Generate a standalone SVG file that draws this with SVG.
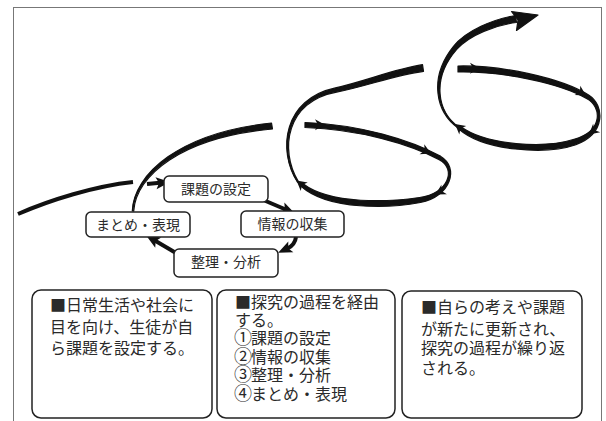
<svg xmlns="http://www.w3.org/2000/svg" xmlns:xlink="http://www.w3.org/1999/xlink" width="606" height="421" viewBox="0 0 606 421">
<style>
.node{fill:#fff;stroke:#222;stroke-width:1.5}
.lbl{font-family:"Noto Sans CJK JP","Noto Sans CJK SC",sans-serif;font-size:14px;fill:#2a2a2a;text-anchor:middle}
.txt{font-family:"Noto Sans CJK JP","Noto Sans CJK SC",sans-serif;font-size:16px;fill:#2a2a2a}
.num{font-size:18px}
.rib{fill:#111;stroke:#111;stroke-width:1.2;stroke-linejoin:round}
.ln{fill:none;stroke:#111;stroke-width:4;stroke-linecap:butt}
</style>
<defs>
<marker id="ah" markerUnits="userSpaceOnUse" viewBox="-6 -8 17 16" refX="0" refY="0" markerWidth="17" markerHeight="16" orient="auto">
<path d="M10,0 L-4,-6 L-1,0 L-4,6 Z" fill="#111"/>
</marker>
<path id="barb" d="M0,0 L-10,-5.5 L-7,0 L-10,5.5 Z" fill="#111"/>
</defs>
<rect x="13.5" y="7.5" width="588" height="430" fill="#fff" stroke="#777" stroke-width="1"/>

<g id="connectors">
<path class="ln" d="M18,214 C50,200 95,186 133,182" stroke-width="5.5"/>
<path class="ln" d="M147,184 L160,182.8" stroke-width="4.5" marker-end="url(#ah)"/>
<path class="ln" d="M261,199 L285.7,209.5" stroke-width="3.5" marker-end="url(#ah)"/>
<path class="ln" d="M296,237 Q295,245 287.2,248.6" stroke-width="3.5" marker-end="url(#ah)"/>
<path class="ln" d="M176,253 L154.8,240.6" stroke-width="4.5" marker-end="url(#ah)"/>
<path class="rib" d="M132.3,210.9 C134,174.2 179.2,132.8 271.5,123 L272.5,129 C180.8,137.2 136,175.8 133.7,211.1 Z"/>
<path class="rib" d="M305,122.5 C360.4,124.6 410.8,140 440.8,156.4 C459.3,167.4 451.3,196.3 420.4,202.5 C390.3,208.2 329,210.9 301,186.2 L303,183.8 C331,205.1 389.7,201.8 419.6,197.5 C448.7,193.7 456.7,168.6 439.2,159.6 C409.2,144 359.6,129.4 305,127.5 Z"/>
<path class="rib" d="M297.5,182.3 C277,150 283.6,99 335.4,87.9 C364.3,81.5 394.6,69 422.5,64.7 L423.5,71.3 C395.4,75 365.7,86.5 336.6,92.1 C286.4,101 279,150 298.5,181.7 Z"/>
<path class="rib" d="M458,66 C500.4,65 561,77.7 589,95.3 C604.4,105.3 606.4,133.1 575.9,144.7 C545.2,155.3 483.5,150.6 459.1,129.2 L460.9,126.8 C486.5,145.4 544.8,148.7 574.1,139.3 C603.6,130.9 601.6,106.7 587,98.7 C559,82.3 499.6,71 458,72 Z"/>
<path class="rib" d="M458.6,128.5 C435.3,112.3 428.6,77.5 453.3,46.6 C465.8,30.6 494,18.9 515.5,15.5 L516.5,22.5 C496,25.1 469.8,34.6 456.7,49.4 C431.4,78.5 436.7,111.7 459.4,127.5 Z"/>
<path class="rib" d="M538,15 L511.5,11.5 L518,20 L516.5,30.5 Z"/>
<use xlink:href="#barb" transform="translate(325,124.8)"/>
<use xlink:href="#barb" transform="translate(431,153.5) rotate(25)"/>
<use xlink:href="#barb" transform="translate(435.5,194.5) rotate(150)"/>
<use xlink:href="#barb" transform="translate(296.5,180.5) rotate(-141)"/>
<use xlink:href="#barb" transform="translate(480,68.3)"/>
<use xlink:href="#barb" transform="translate(586,95.5) rotate(31)"/>
<use xlink:href="#barb" transform="translate(589,134.5) rotate(140)"/>
<use xlink:href="#barb" transform="translate(455,124) rotate(-141)"/>
</g>

<g id="node-kadai">
<rect class="node" x="164" y="176" width="104" height="26" rx="5"/>
<text class="lbl" x="216" y="194">課題の設定</text>
</g>
<g id="node-joho">
<rect class="node" x="241" y="211" width="103" height="26" rx="5"/>
<text class="lbl" x="292.5" y="229">情報の収集</text>
</g>
<g id="node-seiri">
<rect class="node" x="174" y="249" width="104" height="28" rx="5"/>
<text class="lbl" x="226" y="267">整理・分析</text>
</g>
<g id="node-matome">
<rect class="node" x="86" y="212" width="104" height="25" rx="5"/>
<text class="lbl" x="138" y="229.5">まとめ・表現</text>
</g>

<g id="box-1">
<rect class="node" x="32" y="290" width="180" height="128" rx="9"/>
<text class="txt" x="50" y="311">■日常生活や社会に</text>
<text class="txt" x="50" y="332.5">目を向け、生徒が自</text>
<text class="txt" x="50" y="354">ら課題を設定する。</text>
</g>
<g id="box-2">
<rect class="node" x="217" y="290" width="178" height="128" rx="9"/>
<text class="txt" x="235" y="308">■探究の過程を経由</text>
<text class="txt" x="235" y="326">する。</text>
<text class="txt" y="344"><tspan class="num" x="234">①</tspan><tspan x="251">課題の設定</tspan></text>
<text class="txt" y="362.5"><tspan class="num" x="234">②</tspan><tspan x="251">情報の収集</tspan></text>
<text class="txt" y="381"><tspan class="num" x="234">③</tspan><tspan x="251">整理・分析</tspan></text>
<text class="txt" y="399.5"><tspan class="num" x="234">④</tspan><tspan x="251">まとめ・表現</tspan></text>
</g>
<g id="box-3">
<rect class="node" x="402" y="291" width="180" height="127" rx="9"/>
<text class="txt" x="421" y="313">■自らの考えや課題</text>
<text class="txt" x="421" y="334.5">が新たに更新され、</text>
<text class="txt" x="421" y="354">探究の過程が繰り返</text>
<text class="txt" x="421" y="373.5">される。</text>
</g>
</svg>
